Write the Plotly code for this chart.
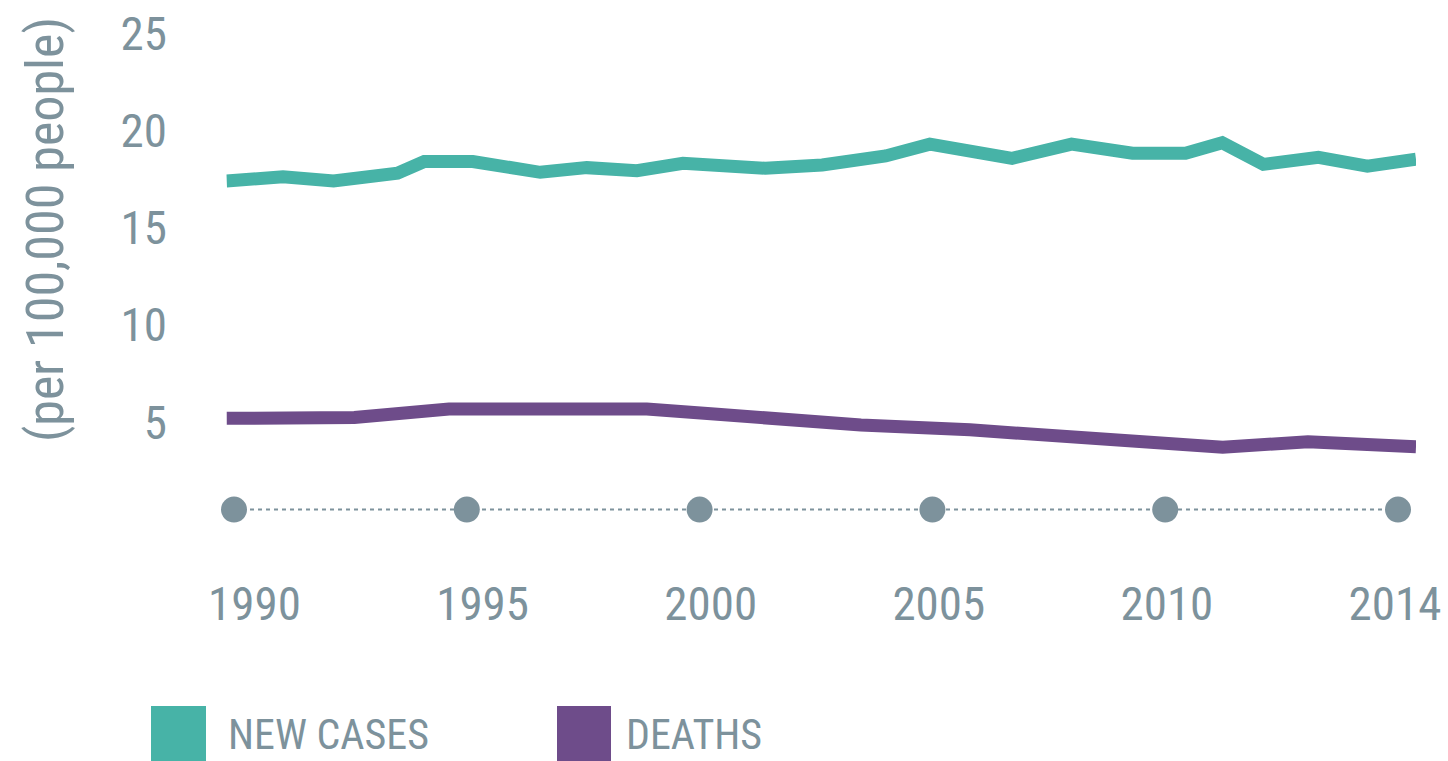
import plotly.graph_objects as go

# ---- data ----
new_cases_years = [1990.0, 1991.14, 1992.16, 1993.45, 1993.99, 1994.97, 1996.33, 1997.27,
                   1998.28, 1999.21, 2000.87, 2002.02, 2003.30, 2004.19, 2005.85, 2007.05,
                   2008.28, 2009.35, 2010.09, 2010.92, 2012.03, 2013.02, 2014.0]
new_cases = [17.39, 17.61, 17.39, 17.79, 18.39, 18.39, 17.84, 18.08,
             17.92, 18.30, 18.05, 18.22, 18.68, 19.29, 18.56, 19.29,
             18.82, 18.82, 19.36, 18.25, 18.61, 18.16, 18.51]

deaths_years = [1990.0, 1992.58, 1994.49, 1997.04, 1998.48, 1999.84, 2001.57, 2002.80,
                2005.0, 2010.10, 2011.82, 2014.0]
deaths = [5.19, 5.24, 5.67, 5.76, 5.67, 5.41, 5.07, 4.85, 4.60, 3.70, 3.99, 3.73]

year_labels = ["1990", "1995", "2000", "2005", "2010", "2014"]
y_ticks = [5, 10, 15, 20, 25]
series_names = ["NEW CASES", "DEATHS"]

# ---- styling ----
W, H = 1448, 761
GREEN = "#47B3A7"
PURPLE = "#6E4C8A"
GREY = "#7D929C"
FONT = "Roboto Condensed, Liberation Sans Narrow, DejaVu Sans Condensed, Roboto, sans-serif"
DOT_ROW = 0.5


def px(x):
    return x / W


def py(y):
    return 1 - y / H


fig = go.Figure()

fig.add_trace(go.Scatter(x=new_cases_years, y=new_cases, mode="lines",
                         line=dict(color=GREEN, width=13), name=series_names[0],
                         xaxis="x", yaxis="y", hoverinfo="x+y", cliponaxis=False))
fig.add_trace(go.Scatter(x=deaths_years, y=deaths, mode="lines",
                         line=dict(color=PURPLE, width=13), name=series_names[1],
                         xaxis="x", yaxis="y", hoverinfo="x+y", cliponaxis=False))

# timeline dots
fig.add_trace(go.Scatter(x=list(range(len(year_labels))), y=[DOT_ROW] * len(year_labels),
                         mode="lines+markers",
                         line=dict(color=GREY, width=2, dash="4px,4px"),
                         marker=dict(color=GREY, size=26),
                         text=year_labels, hoverinfo="text", cliponaxis=False,
                         xaxis="x2", yaxis="y"))
# invisible trace holding the year label axis
fig.add_trace(go.Scatter(x=list(range(len(year_labels))), y=[DOT_ROW] * len(year_labels),
                         mode="markers", marker=dict(opacity=0), hoverinfo="skip",
                         xaxis="x3", yaxis="y"))

y0_px, unit_px = 519.3, 19.45
y_max = 26
fig.update_layout(
    width=W, height=H,
    margin=dict(l=0, r=0, t=0, b=0, pad=0, autoexpand=False),
    paper_bgcolor="white",
    plot_bgcolor="rgba(0,0,0,0)",
    showlegend=False,
    font=dict(family=FONT, color=GREY),
    xaxis=dict(domain=[px(226.5), px(1416)], range=[1990, 2014], visible=False,
               showgrid=False, zeroline=False, automargin=False),
    xaxis2=dict(domain=[px(234), px(1398)], range=[0, 5], visible=False,
                showgrid=False, zeroline=False, anchor="y", automargin=False),
    xaxis3=dict(domain=[px(254.5), px(1395)], range=[0, 5], anchor="free",
                position=py(572), showgrid=False, zeroline=False, showline=False,
                tickmode="array", tickvals=list(range(len(year_labels))),
                ticktext=year_labels, ticks="", automargin=False,
                tickfont=dict(family=FONT, size=47, color=GREY)),
    yaxis=dict(domain=[py(y0_px), py(y0_px - y_max * unit_px)], range=[0, y_max],
               anchor="free", position=px(167), showgrid=False, zeroline=False,
               showline=False, ticks="", tickmode="array", tickvals=y_ticks,
               automargin=False,
               tickfont=dict(family=FONT, size=47, color=GREY)),
)

# y-axis title
fig.add_annotation(text="(per 100,000 people)", xref="paper", yref="paper",
                   x=px(46), y=py(230), textangle=-90, showarrow=False,
                   font=dict(family=FONT, size=52, color=GREY),
                   xanchor="center", yanchor="middle")

# custom legend
legend_items = [(series_names[0], GREEN, 151, 206, 226), (series_names[1], PURPLE, 557, 611, 624)]
for name, color, bx0, bx1, tx in legend_items:
    fig.add_shape(type="rect", xref="paper", yref="paper",
                  x0=px(bx0), x1=px(bx1), y0=py(761), y1=py(706),
                  fillcolor=color, line=dict(width=0))
    fig.add_annotation(text=name, xref="paper", yref="paper", x=px(tx), y=py(734),
                       xanchor="left", yanchor="middle", showarrow=False,
                       font=dict(family=FONT, size=42, color=GREY))

fig.write_html("out.html", config={"displayModeBar": False},
               post_script="document.body.style.margin='0';document.body.style.overflow='hidden';")
